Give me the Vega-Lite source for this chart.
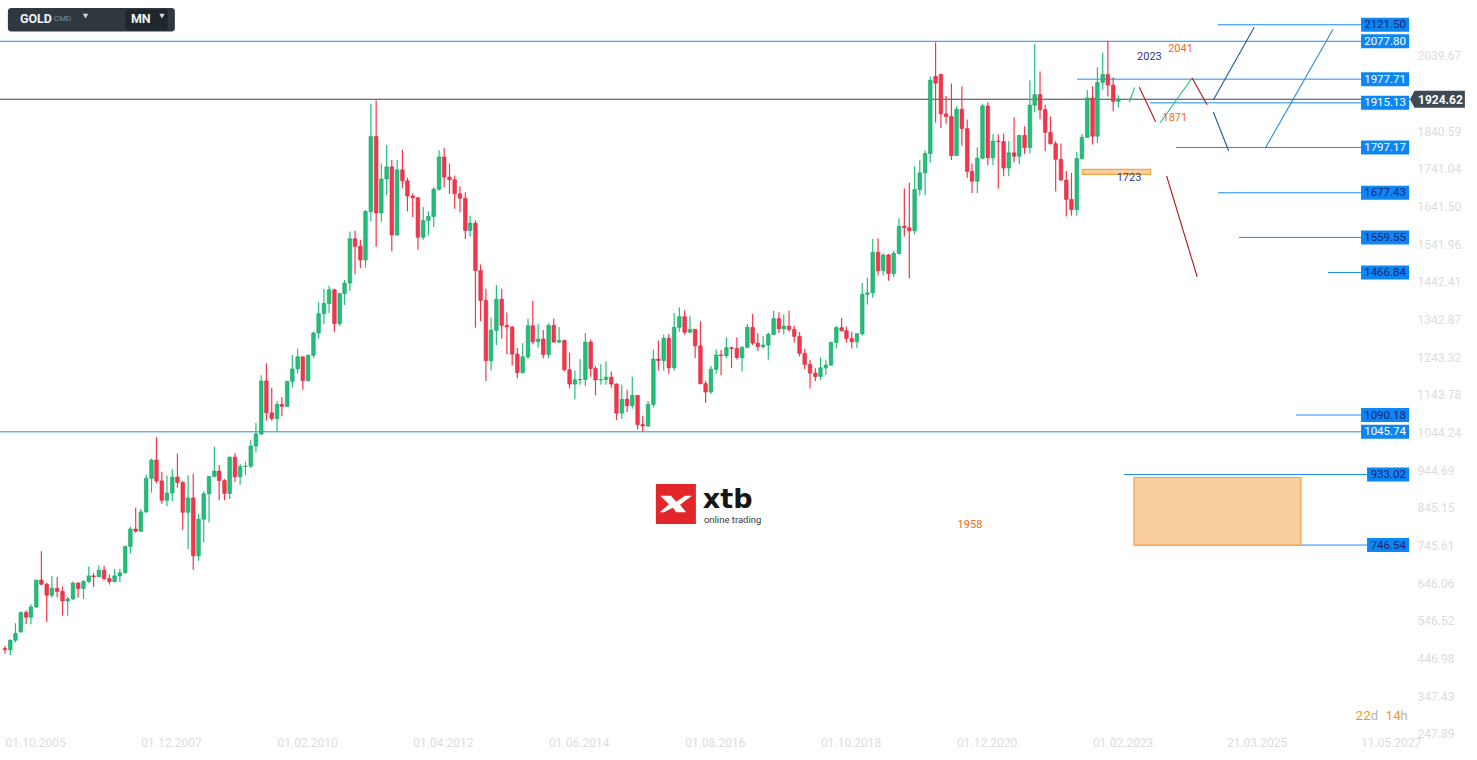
{
  "$schema": "https://vega.github.io/schema/vega-lite/v6.json",
  "width": 1410,
  "height": 760,
  "autosize": {"type": "none"},
  "padding": {"left": 0, "top": 0, "right": 67, "bottom": 0},
  "background": "#ffffff",
  "config": {
    "view": {"stroke": null},
    "font": "Roboto",
    "scale": {"continuousPadding": 0},
    "axis": {"grid": false, "domain": false, "ticks": false, "labelColor": "#dcdcdc", "labelFontSize": 12, "labelFont": "Roboto", "title": null}
  },
  "resolve": {"scale": {"color": "independent", "stroke": "independent"}},
  "datasets": {
    "candles": [
      {"d":"2005-10-01","o":473,"h":480,"l":459,"c":470},
      {"d":"2005-11-01","o":470,"h":497,"l":456,"c":495},
      {"d":"2005-12-01","o":495,"h":540,"l":489,"c":513},
      {"d":"2006-01-01","o":517,"h":571,"l":515,"c":568},
      {"d":"2006-02-01","o":568,"h":574,"l":538,"c":556},
      {"d":"2006-03-01","o":556,"h":590,"l":537,"c":583},
      {"d":"2006-04-01","o":583,"h":655,"l":580,"c":654},
      {"d":"2006-05-01","o":654,"h":730,"l":640,"c":643},
      {"d":"2006-06-01","o":643,"h":647,"l":543,"c":614},
      {"d":"2006-07-01","o":614,"h":665,"l":608,"c":632},
      {"d":"2006-08-01","o":632,"h":663,"l":608,"c":624},
      {"d":"2006-09-01","o":624,"h":637,"l":560,"c":599},
      {"d":"2006-10-01","o":599,"h":610,"l":560,"c":604},
      {"d":"2006-11-01","o":604,"h":650,"l":602,"c":646},
      {"d":"2006-12-01","o":646,"h":648,"l":608,"c":632},
      {"d":"2007-01-01","o":632,"h":654,"l":604,"c":650},
      {"d":"2007-02-01","o":650,"h":690,"l":647,"c":665},
      {"d":"2007-03-01","o":665,"h":673,"l":636,"c":663},
      {"d":"2007-04-01","o":663,"h":693,"l":662,"c":680},
      {"d":"2007-05-01","o":680,"h":691,"l":653,"c":658},
      {"d":"2007-06-01","o":658,"h":669,"l":642,"c":650},
      {"d":"2007-07-01","o":650,"h":683,"l":648,"c":665},
      {"d":"2007-08-01","o":665,"h":683,"l":649,"c":673},
      {"d":"2007-09-01","o":673,"h":745,"l":672,"c":743},
      {"d":"2007-10-01","o":743,"h":795,"l":724,"c":789},
      {"d":"2007-11-01","o":789,"h":845,"l":780,"c":783},
      {"d":"2007-12-01","o":783,"h":842,"l":781,"c":834},
      {"d":"2008-01-01","o":834,"h":933,"l":832,"c":923},
      {"d":"2008-02-01","o":923,"h":975,"l":885,"c":971},
      {"d":"2008-03-01","o":971,"h":1032,"l":910,"c":916},
      {"d":"2008-04-01","o":916,"h":940,"l":856,"c":865},
      {"d":"2008-05-01","o":865,"h":930,"l":850,"c":884},
      {"d":"2008-06-01","o":884,"h":947,"l":862,"c":926},
      {"d":"2008-07-01","o":926,"h":988,"l":898,"c":912},
      {"d":"2008-08-01","o":912,"h":915,"l":786,"c":833},
      {"d":"2008-09-01","o":833,"h":931,"l":736,"c":871},
      {"d":"2008-10-01","o":871,"h":935,"l":681,"c":718},
      {"d":"2008-11-01","o":718,"h":829,"l":705,"c":815},
      {"d":"2008-12-01","o":815,"h":889,"l":753,"c":882},
      {"d":"2009-01-01","o":882,"h":928,"l":806,"c":928},
      {"d":"2009-02-01","o":928,"h":1006,"l":926,"c":942},
      {"d":"2009-03-01","o":942,"h":958,"l":865,"c":917},
      {"d":"2009-04-01","o":917,"h":921,"l":865,"c":883},
      {"d":"2009-05-01","o":883,"h":980,"l":868,"c":979},
      {"d":"2009-06-01","o":979,"h":990,"l":913,"c":927},
      {"d":"2009-07-01","o":927,"h":961,"l":906,"c":954},
      {"d":"2009-08-01","o":954,"h":967,"l":931,"c":955},
      {"d":"2009-09-01","o":955,"h":1025,"l":950,"c":1008},
      {"d":"2009-10-01","o":1008,"h":1070,"l":991,"c":1040},
      {"d":"2009-11-01","o":1040,"h":1195,"l":1038,"c":1180},
      {"d":"2009-12-01","o":1180,"h":1227,"l":1075,"c":1096},
      {"d":"2010-01-01","o":1096,"h":1162,"l":1075,"c":1081},
      {"d":"2010-02-01","o":1081,"h":1127,"l":1045,"c":1118},
      {"d":"2010-03-01","o":1118,"h":1137,"l":1087,"c":1113},
      {"d":"2010-04-01","o":1113,"h":1180,"l":1112,"c":1179},
      {"d":"2010-05-01","o":1179,"h":1249,"l":1163,"c":1212},
      {"d":"2010-06-01","o":1212,"h":1265,"l":1199,"c":1244},
      {"d":"2010-07-01","o":1244,"h":1245,"l":1157,"c":1181},
      {"d":"2010-08-01","o":1181,"h":1250,"l":1178,"c":1248},
      {"d":"2010-09-01","o":1248,"h":1310,"l":1241,"c":1307},
      {"d":"2010-10-01","o":1307,"h":1388,"l":1292,"c":1358},
      {"d":"2010-11-01","o":1358,"h":1424,"l":1330,"c":1385},
      {"d":"2010-12-01","o":1385,"h":1432,"l":1360,"c":1421},
      {"d":"2011-01-01","o":1421,"h":1424,"l":1309,"c":1332},
      {"d":"2011-02-01","o":1332,"h":1412,"l":1325,"c":1411},
      {"d":"2011-03-01","o":1411,"h":1447,"l":1381,"c":1439},
      {"d":"2011-04-01","o":1439,"h":1575,"l":1418,"c":1556},
      {"d":"2011-05-01","o":1556,"h":1577,"l":1462,"c":1536},
      {"d":"2011-06-01","o":1536,"h":1553,"l":1478,"c":1500},
      {"d":"2011-07-01","o":1500,"h":1632,"l":1480,"c":1628},
      {"d":"2011-08-01","o":1628,"h":1913,"l":1602,"c":1826},
      {"d":"2011-09-01","o":1826,"h":1921,"l":1535,"c":1624},
      {"d":"2011-10-01","o":1624,"h":1755,"l":1600,"c":1714},
      {"d":"2011-11-01","o":1714,"h":1804,"l":1671,"c":1746},
      {"d":"2011-12-01","o":1746,"h":1764,"l":1523,"c":1566},
      {"d":"2012-01-01","o":1566,"h":1764,"l":1563,"c":1738},
      {"d":"2012-02-01","o":1738,"h":1791,"l":1689,"c":1709},
      {"d":"2012-03-01","o":1709,"h":1717,"l":1628,"c":1669},
      {"d":"2012-04-01","o":1669,"h":1676,"l":1613,"c":1664},
      {"d":"2012-05-01","o":1664,"h":1667,"l":1527,"c":1560},
      {"d":"2012-06-01","o":1560,"h":1640,"l":1553,"c":1604},
      {"d":"2012-07-01","o":1604,"h":1628,"l":1564,"c":1615},
      {"d":"2012-08-01","o":1615,"h":1692,"l":1587,"c":1687},
      {"d":"2012-09-01","o":1687,"h":1790,"l":1683,"c":1772},
      {"d":"2012-10-01","o":1772,"h":1796,"l":1692,"c":1719},
      {"d":"2012-11-01","o":1719,"h":1755,"l":1674,"c":1712},
      {"d":"2012-12-01","o":1712,"h":1723,"l":1635,"c":1675},
      {"d":"2013-01-01","o":1675,"h":1695,"l":1626,"c":1663},
      {"d":"2013-02-01","o":1663,"h":1679,"l":1555,"c":1578},
      {"d":"2013-03-01","o":1578,"h":1617,"l":1562,"c":1597},
      {"d":"2013-04-01","o":1597,"h":1605,"l":1321,"c":1472},
      {"d":"2013-05-01","o":1472,"h":1488,"l":1338,"c":1393},
      {"d":"2013-06-01","o":1393,"h":1424,"l":1180,"c":1234},
      {"d":"2013-07-01","o":1234,"h":1348,"l":1208,"c":1314},
      {"d":"2013-08-01","o":1314,"h":1434,"l":1275,"c":1396},
      {"d":"2013-09-01","o":1396,"h":1424,"l":1292,"c":1327},
      {"d":"2013-10-01","o":1327,"h":1361,"l":1251,"c":1323},
      {"d":"2013-11-01","o":1323,"h":1325,"l":1221,"c":1251},
      {"d":"2013-12-01","o":1251,"h":1267,"l":1187,"c":1202},
      {"d":"2014-01-01","o":1202,"h":1280,"l":1200,"c":1244},
      {"d":"2014-02-01","o":1244,"h":1345,"l":1238,"c":1326},
      {"d":"2014-03-01","o":1326,"h":1392,"l":1277,"c":1284},
      {"d":"2014-04-01","o":1284,"h":1331,"l":1268,"c":1291},
      {"d":"2014-05-01","o":1291,"h":1315,"l":1240,"c":1250},
      {"d":"2014-06-01","o":1250,"h":1332,"l":1240,"c":1327},
      {"d":"2014-07-01","o":1327,"h":1345,"l":1282,"c":1283},
      {"d":"2014-08-01","o":1283,"h":1323,"l":1280,"c":1287},
      {"d":"2014-09-01","o":1287,"h":1289,"l":1205,"c":1210},
      {"d":"2014-10-01","o":1210,"h":1255,"l":1161,"c":1172},
      {"d":"2014-11-01","o":1172,"h":1208,"l":1131,"c":1183},
      {"d":"2014-12-01","o":1183,"h":1238,"l":1170,"c":1184},
      {"d":"2015-01-01","o":1184,"h":1307,"l":1167,"c":1283},
      {"d":"2015-02-01","o":1283,"h":1290,"l":1191,"c":1213},
      {"d":"2015-03-01","o":1213,"h":1219,"l":1142,"c":1183},
      {"d":"2015-04-01","o":1183,"h":1224,"l":1170,"c":1184},
      {"d":"2015-05-01","o":1184,"h":1232,"l":1170,"c":1190},
      {"d":"2015-06-01","o":1190,"h":1205,"l":1162,"c":1172},
      {"d":"2015-07-01","o":1172,"h":1174,"l":1077,"c":1095},
      {"d":"2015-08-01","o":1095,"h":1170,"l":1080,"c":1132},
      {"d":"2015-09-01","o":1132,"h":1157,"l":1098,"c":1115},
      {"d":"2015-10-01","o":1115,"h":1191,"l":1107,"c":1142},
      {"d":"2015-11-01","o":1142,"h":1143,"l":1052,"c":1065},
      {"d":"2015-12-01","o":1065,"h":1088,"l":1046,"c":1061},
      {"d":"2016-01-01","o":1061,"h":1127,"l":1060,"c":1118},
      {"d":"2016-02-01","o":1118,"h":1263,"l":1111,"c":1238},
      {"d":"2016-03-01","o":1238,"h":1287,"l":1208,"c":1234},
      {"d":"2016-04-01","o":1234,"h":1303,"l":1208,"c":1293},
      {"d":"2016-05-01","o":1293,"h":1304,"l":1199,"c":1215},
      {"d":"2016-06-01","o":1215,"h":1359,"l":1208,"c":1322},
      {"d":"2016-07-01","o":1322,"h":1375,"l":1310,"c":1350},
      {"d":"2016-08-01","o":1350,"h":1367,"l":1302,"c":1309},
      {"d":"2016-09-01","o":1309,"h":1352,"l":1306,"c":1316},
      {"d":"2016-10-01","o":1316,"h":1318,"l":1241,"c":1273},
      {"d":"2016-11-01","o":1273,"h":1338,"l":1171,"c":1173},
      {"d":"2016-12-01","o":1173,"h":1180,"l":1122,"c":1151},
      {"d":"2017-01-01","o":1151,"h":1220,"l":1146,"c":1211},
      {"d":"2017-02-01","o":1211,"h":1264,"l":1199,"c":1249},
      {"d":"2017-03-01","o":1249,"h":1262,"l":1195,"c":1247},
      {"d":"2017-04-01","o":1247,"h":1295,"l":1240,"c":1268},
      {"d":"2017-05-01","o":1268,"h":1271,"l":1214,"c":1266},
      {"d":"2017-06-01","o":1266,"h":1296,"l":1237,"c":1242},
      {"d":"2017-07-01","o":1242,"h":1272,"l":1205,"c":1269},
      {"d":"2017-08-01","o":1269,"h":1331,"l":1267,"c":1322},
      {"d":"2017-09-01","o":1322,"h":1357,"l":1275,"c":1280},
      {"d":"2017-10-01","o":1280,"h":1306,"l":1260,"c":1271},
      {"d":"2017-11-01","o":1271,"h":1299,"l":1265,"c":1275},
      {"d":"2017-12-01","o":1275,"h":1308,"l":1236,"c":1303},
      {"d":"2018-01-01","o":1303,"h":1366,"l":1301,"c":1345},
      {"d":"2018-02-01","o":1345,"h":1362,"l":1307,"c":1318},
      {"d":"2018-03-01","o":1318,"h":1356,"l":1303,"c":1325},
      {"d":"2018-04-01","o":1325,"h":1366,"l":1310,"c":1316},
      {"d":"2018-05-01","o":1316,"h":1326,"l":1282,"c":1298},
      {"d":"2018-06-01","o":1298,"h":1309,"l":1245,"c":1253},
      {"d":"2018-07-01","o":1253,"h":1265,"l":1211,"c":1224},
      {"d":"2018-08-01","o":1224,"h":1236,"l":1160,"c":1201},
      {"d":"2018-09-01","o":1201,"h":1214,"l":1180,"c":1192},
      {"d":"2018-10-01","o":1192,"h":1243,"l":1183,"c":1215},
      {"d":"2018-11-01","o":1215,"h":1237,"l":1196,"c":1222},
      {"d":"2018-12-01","o":1222,"h":1284,"l":1221,"c":1282},
      {"d":"2019-01-01","o":1282,"h":1326,"l":1266,"c":1321},
      {"d":"2019-02-01","o":1321,"h":1347,"l":1311,"c":1313},
      {"d":"2019-03-01","o":1313,"h":1324,"l":1281,"c":1292},
      {"d":"2019-04-01","o":1292,"h":1310,"l":1266,"c":1284},
      {"d":"2019-05-01","o":1284,"h":1306,"l":1267,"c":1305},
      {"d":"2019-06-01","o":1305,"h":1439,"l":1300,"c":1409},
      {"d":"2019-07-01","o":1409,"h":1453,"l":1382,"c":1413},
      {"d":"2019-08-01","o":1413,"h":1555,"l":1400,"c":1520},
      {"d":"2019-09-01","o":1520,"h":1557,"l":1459,"c":1472},
      {"d":"2019-10-01","o":1472,"h":1517,"l":1459,"c":1513},
      {"d":"2019-11-01","o":1513,"h":1516,"l":1445,"c":1464},
      {"d":"2019-12-01","o":1464,"h":1524,"l":1454,"c":1517},
      {"d":"2020-01-01","o":1517,"h":1611,"l":1515,"c":1589},
      {"d":"2020-02-01","o":1589,"h":1689,"l":1562,"c":1585},
      {"d":"2020-03-01","o":1585,"h":1704,"l":1451,"c":1577},
      {"d":"2020-04-01","o":1577,"h":1748,"l":1568,"c":1686},
      {"d":"2020-05-01","o":1686,"h":1765,"l":1670,"c":1730},
      {"d":"2020-06-01","o":1730,"h":1789,"l":1671,"c":1781},
      {"d":"2020-07-01","o":1781,"h":1984,"l":1757,"c":1975},
      {"d":"2020-08-01","o":1985,"h":2075,"l":1863,"c":1967},
      {"d":"2020-09-01","o":1990,"h":1992,"l":1848,"c":1886},
      {"d":"2020-10-01","o":1886,"h":1933,"l":1860,"c":1879},
      {"d":"2020-11-01","o":1879,"h":1966,"l":1764,"c":1776},
      {"d":"2020-12-01","o":1776,"h":1906,"l":1775,"c":1898},
      {"d":"2021-01-01","o":1898,"h":1959,"l":1802,"c":1847},
      {"d":"2021-02-01","o":1847,"h":1871,"l":1717,"c":1734},
      {"d":"2021-03-01","o":1734,"h":1755,"l":1677,"c":1708},
      {"d":"2021-04-01","o":1708,"h":1798,"l":1677,"c":1769},
      {"d":"2021-05-01","o":1769,"h":1913,"l":1766,"c":1907},
      {"d":"2021-06-01","o":1907,"h":1917,"l":1750,"c":1770},
      {"d":"2021-07-01","o":1770,"h":1833,"l":1751,"c":1814},
      {"d":"2021-08-01","o":1814,"h":1832,"l":1688,"c":1813},
      {"d":"2021-09-01","o":1813,"h":1834,"l":1721,"c":1743},
      {"d":"2021-10-01","o":1743,"h":1814,"l":1721,"c":1783},
      {"d":"2021-11-01","o":1783,"h":1877,"l":1758,"c":1774},
      {"d":"2021-12-01","o":1774,"h":1831,"l":1753,"c":1829},
      {"d":"2022-01-01","o":1829,"h":1853,"l":1780,"c":1797},
      {"d":"2022-02-01","o":1797,"h":1974,"l":1781,"c":1909},
      {"d":"2022-03-01","o":1909,"h":2070,"l":1890,"c":1937},
      {"d":"2022-04-01","o":1937,"h":1998,"l":1872,"c":1897},
      {"d":"2022-05-01","o":1897,"h":1910,"l":1787,"c":1837},
      {"d":"2022-06-01","o":1837,"h":1879,"l":1805,"c":1807},
      {"d":"2022-07-01","o":1807,"h":1814,"l":1681,"c":1766},
      {"d":"2022-08-01","o":1766,"h":1808,"l":1710,"c":1711},
      {"d":"2022-09-01","o":1711,"h":1735,"l":1615,"c":1660},
      {"d":"2022-10-01","o":1660,"h":1730,"l":1617,"c":1633},
      {"d":"2022-11-01","o":1633,"h":1786,"l":1617,"c":1768},
      {"d":"2022-12-01","o":1768,"h":1833,"l":1765,"c":1824},
      {"d":"2023-01-01","o":1824,"h":1949,"l":1823,"c":1928},
      {"d":"2023-02-01","o":1928,"h":1959,"l":1805,"c":1827},
      {"d":"2023-03-01","o":1827,"h":2009,"l":1809,"c":1969},
      {"d":"2023-04-01","o":1969,"h":2048,"l":1950,"c":1990},
      {"d":"2023-05-01","o":1990,"h":2079,"l":1932,"c":1962},
      {"d":"2023-06-01","o":1962,"h":1983,"l":1893,"c":1919},
      {"d":"2023-07-01","o":1919,"h":1935,"l":1903,"c":1924.62}
    ],
    "levels": [
      {"p":2121.50,"from":"2025-01-31","to":"2027-05-14","tone":"dark"},
      {"p":2077.80,"from":"2005-09-02","to":"2027-05-14","tone":"light"},
      {"p":1977.71,"from":"2022-11-02","to":"2027-05-14","tone":"light"},
      {"p":1915.13,"from":"2024-01-01","to":"2027-05-14","tone":"light"},
      {"p":1797.17,"from":"2024-06-01","to":"2027-05-14","tone":"light"},
      {"p":1677.43,"from":"2025-01-31","to":"2027-05-14","tone":"dark"},
      {"p":1559.55,"from":"2025-06-02","to":"2027-05-14","tone":"dark"},
      {"p":1466.84,"from":"2026-11-02","to":"2027-05-14","tone":"dark"},
      {"p":1090.18,"from":"2026-04-30","to":"2027-05-14","tone":"dark"},
      {"p":1045.74,"from":"2005-09-02","to":"2027-05-14","tone":"light"},
      {"p":933.02,"from":"2023-08-02","to":"2027-06-18","tone":"dark"},
      {"p":746.54,"from":"2023-09-30","to":"2027-06-18","tone":"dark"}
    ],
    "last": [
      {"d":"2005-09-02","d2":"2028-02-23","p":1924.62}
    ],
    "zones": [
      {"d":"2023-09-30","d2":"2026-05-29","p":925,"p2":746.54},
      {"d":"2022-12-03","d2":"2024-01-05","p":1739.5,"p2":1726.2}
    ],
    "segments": [
      {"d":"2023-09-03","p":1917.3,"d2":"2023-10-04","p2":1955.6,"tone":"green"},
      {"d":"2023-10-31","p":1956.2,"d2":"2024-02-03","p2":1865.3,"tone":"red"},
      {"d":"2024-03-01","p":1862.6,"d2":"2024-09-02","p2":1980.7,"tone":"green"},
      {"d":"2024-09-02","p":1980.7,"d2":"2024-11-29","p2":1910.2,"tone":"red"},
      {"d":"2025-01-04","p":1922.6,"d2":"2025-08-30","p2":2114.7,"tone":"navy"},
      {"d":"2025-01-04","p":1890.9,"d2":"2025-04-03","p2":1788.6,"tone":"navy"},
      {"d":"2025-11-02","p":1794.9,"d2":"2026-12-02","p2":2109.4,"tone":"blue"},
      {"d":"2024-04-07","p":1721.8,"d2":"2024-10-02","p2":1455.6,"tone":"red"}
    ],
    "notes": [
      {"d":"2023-12-29","p":2035.4,"t":"2023","tone":"navy"},
      {"d":"2024-06-27","p":2056.6,"t":"2041","tone":"orange"},
      {"d":"2024-05-25","p":1874.2,"t":"1871","tone":"orange"},
      {"d":"2023-09-01","p":1715.7,"t":"1723","tone":"navy"},
      {"d":"2021-02-17","p":799.4,"t":"1958","tone":"orange"}
    ],
    "countdown": [
      {"d":"2027-04-12","p":295,"t":"22","tone":"num"},
      {"d":"2027-07-08","p":295,"t":"d","tone":"unit"},
      {"d":"2027-10-04","p":295,"t":"14","tone":"num"},
      {"d":"2027-12-28","p":295,"t":"h","tone":"unit"}
    ]
  },
  "layer": [
    {
      "data": {"name": "levels"},
      "mark": {"type": "rule", "color": "#1e8cf0", "strokeWidth": 1},
      "encoding": {
        "x": {"field": "from", "type": "temporal", "title": null, "scale": {"type": "utc", "nice": false, "domain": [{"year": 2005, "month": 9, "date": 2, "utc": true}, {"year": 2028, "month": 2, "date": 23, "utc": true}]}},
        "x2": {"field": "to"},
        "y": {"field": "p", "type": "quantitative", "title": null, "scale": {"domain": [178.5, 2186.9], "nice": false, "zero": false}}
      }
    },
    {
      "data": {"name": "last"},
      "mark": {"type": "rule", "color": "#3b464f", "strokeWidth": 1},
      "encoding": {
        "x": {"field": "d", "type": "temporal", "title": null, "scale": {"type": "utc", "nice": false, "domain": [{"year": 2005, "month": 9, "date": 2, "utc": true}, {"year": 2028, "month": 2, "date": 23, "utc": true}]}},
        "x2": {"field": "d2"},
        "y": {"field": "p", "type": "quantitative", "title": null, "scale": {"domain": [178.5, 2186.9], "nice": false, "zero": false}}
      }
    },
    {
      "data": {"name": "zones"},
      "mark": {"type": "rect", "fill": "#f9cf9f", "stroke": "#f3a447", "strokeWidth": 1.2},
      "encoding": {
        "x": {"field": "d", "type": "temporal", "title": null, "scale": {"type": "utc", "nice": false, "domain": [{"year": 2005, "month": 9, "date": 2, "utc": true}, {"year": 2028, "month": 2, "date": 23, "utc": true}]}},
        "x2": {"field": "d2"},
        "y": {"field": "p", "type": "quantitative", "title": null, "scale": {"domain": [178.5, 2186.9], "nice": false, "zero": false}},
        "y2": {"field": "p2"}
      }
    },
    {
      "data": {"name": "candles"},
      "mark": {"type": "rule", "strokeWidth": 1.2},
      "encoding": {
        "x": {"field": "d", "type": "temporal", "title": null, "scale": {"type": "utc", "nice": false, "domain": [{"year": 2005, "month": 9, "date": 2, "utc": true}, {"year": 2028, "month": 2, "date": 23, "utc": true}]}},
        "y": {"field": "l", "type": "quantitative", "title": null, "scale": {"domain": [178.5, 2186.9], "nice": false, "zero": false}},
        "y2": {"field": "h"},
        "color": {"condition": {"test": "datum.c >= datum.o", "value": "#21c07a"}, "value": "#f4364c"}
      }
    },
    {
      "data": {"name": "candles"},
      "mark": {"type": "bar", "size": 3.6, "strokeWidth": 0.6},
      "encoding": {
        "x": {
          "field": "d", "type": "temporal", "title": null,
          "scale": {"type": "utc", "nice": false, "domain": [{"year": 2005, "month": 9, "date": 2, "utc": true}, {"year": 2028, "month": 2, "date": 23, "utc": true}]},
          "axis": {
            "values": [
              {"year": 2005, "month": 10, "date": 1, "utc": true},
              {"year": 2007, "month": 12, "date": 1, "utc": true},
              {"year": 2010, "month": 2, "date": 1, "utc": true},
              {"year": 2012, "month": 4, "date": 1, "utc": true},
              {"year": 2014, "month": 6, "date": 1, "utc": true},
              {"year": 2016, "month": 8, "date": 1, "utc": true},
              {"year": 2018, "month": 10, "date": 1, "utc": true},
              {"year": 2020, "month": 12, "date": 1, "utc": true},
              {"year": 2023, "month": 2, "date": 1, "utc": true},
              {"year": 2025, "month": 3, "date": 21, "utc": true},
              {"year": 2027, "month": 5, "date": 11, "utc": true}
            ],
            "labelExpr": "utcFormat(datum.value, '%d.%m.%Y')",
            "orient": "bottom", "offset": -28, "domain": false, "ticks": false, "grid": false,
            "labelAlign": "left", "labelBaseline": "top", "labelPadding": 5,
            "labelColor": "#dcdcdc", "labelFontSize": 12, "labelFont": "Roboto",
            "labelFlush": false, "labelOverlap": false, "labelBound": false, "title": null
          }
        },
        "y": {
          "field": "o", "type": "quantitative", "title": null,
          "scale": {"domain": [178.5, 2186.9], "nice": false, "zero": false},
          "axis": {
            "values": [2039.67, 1840.59, 1741.04, 1641.50, 1541.96, 1442.41, 1342.87, 1243.32, 1143.78, 1044.24, 944.69, 845.15, 745.61, 646.06, 546.52, 446.98, 347.43, 247.89],
            "format": ".2f", "orient": "right", "domain": false, "ticks": false, "grid": false,
            "labelAlign": "left", "labelPadding": 7, "labelColor": "#dcdcdc", "labelFontSize": 12, "labelFont": "Roboto",
            "labelOverlap": false, "labelBound": false, "labelFlush": false, "title": null
          }
        },
        "y2": {"field": "c"},
        "color": {"condition": {"test": "datum.c >= datum.o", "value": "#21c07a"}, "value": "#f4364c"},
        "stroke": {"condition": {"test": "datum.c >= datum.o", "value": "#1a9f65"}, "value": "#d9283e"}
      }
    },
    {
      "data": {"name": "segments"},
      "mark": {"type": "rule", "strokeWidth": 1.1},
      "encoding": {
        "x": {"field": "d", "type": "temporal", "title": null, "scale": {"type": "utc", "nice": false, "domain": [{"year": 2005, "month": 9, "date": 2, "utc": true}, {"year": 2028, "month": 2, "date": 23, "utc": true}]}},
        "x2": {"field": "d2"},
        "y": {"field": "p", "type": "quantitative", "title": null, "scale": {"domain": [178.5, 2186.9], "nice": false, "zero": false}},
        "y2": {"field": "p2"},
        "color": {"field": "tone", "type": "nominal", "legend": null, "scale": {"domain": ["green", "red", "navy", "blue"], "range": ["#22bf78", "#b3161e", "#1d5c9c", "#2b8dd8"]}}
      }
    },
    {
      "data": {"name": "notes"},
      "mark": {"type": "text", "fontSize": 11, "font": "Roboto", "align": "center", "baseline": "middle"},
      "encoding": {
        "x": {"field": "d", "type": "temporal", "title": null, "scale": {"type": "utc", "nice": false, "domain": [{"year": 2005, "month": 9, "date": 2, "utc": true}, {"year": 2028, "month": 2, "date": 23, "utc": true}]}},
        "y": {"field": "p", "type": "quantitative", "title": null, "scale": {"domain": [178.5, 2186.9], "nice": false, "zero": false}},
        "text": {"field": "t"},
        "color": {"field": "tone", "type": "nominal", "legend": null, "scale": {"domain": ["navy", "orange"], "range": ["#2f3a8c", "#f26a1d"]}}
      }
    },
    {
      "data": {"name": "levels"},
      "mark": {"type": "bar", "size": 14, "color": "#0b86f2"},
      "encoding": {
        "x": {"field": "to", "type": "temporal", "title": null, "scale": {"type": "utc", "nice": false, "domain": [{"year": 2005, "month": 9, "date": 2, "utc": true}, {"year": 2028, "month": 2, "date": 23, "utc": true}]}},
        "x2": {"datum": {"year": 2028, "month": 2, "date": 18, "utc": true}},
        "y": {"field": "p", "type": "quantitative", "title": null, "scale": {"domain": [178.5, 2186.9], "nice": false, "zero": false}}
      }
    },
    {
      "data": {"name": "levels"},
      "mark": {"type": "text", "fontSize": 11.5, "font": "Roboto", "align": "right", "baseline": "middle", "dx": -4, "dy": 0.5},
      "encoding": {
        "x": {"datum": {"year": 2028, "month": 2, "date": 23, "utc": true}, "type": "temporal", "title": null, "scale": {"type": "utc", "nice": false, "domain": [{"year": 2005, "month": 9, "date": 2, "utc": true}, {"year": 2028, "month": 2, "date": 23, "utc": true}]}},
        "y": {"field": "p", "type": "quantitative", "title": null, "scale": {"domain": [178.5, 2186.9], "nice": false, "zero": false}},
        "text": {"field": "p", "type": "quantitative", "format": ".2f"},
        "color": {"field": "tone", "type": "nominal", "legend": null, "scale": {"domain": ["light", "dark"], "range": ["#ffffff", "#1c2272"]}}
      }
    },
    {
      "data": {"name": "last"},
      "mark": {"type": "point", "filled": true, "opacity": 1, "size": 3136, "color": "#3d4a53", "shape": "M0,0 L0.16,-0.3 L1.96,-0.3 L1.96,0.3 L0.16,0.3 Z"},
      "encoding": {
        "x": {"field": "d2", "type": "temporal", "title": null, "scale": {"type": "utc", "nice": false, "domain": [{"year": 2005, "month": 9, "date": 2, "utc": true}, {"year": 2028, "month": 2, "date": 23, "utc": true}]}},
        "y": {"field": "p", "type": "quantitative", "title": null, "scale": {"domain": [178.5, 2186.9], "nice": false, "zero": false}}
      }
    },
    {
      "data": {"name": "last"},
      "mark": {"type": "text", "fontSize": 12, "fontWeight": "bold", "font": "Roboto", "color": "#ffffff", "align": "left", "baseline": "middle", "dx": 8, "dy": 0.5},
      "encoding": {
        "x": {"field": "d2", "type": "temporal", "title": null, "scale": {"type": "utc", "nice": false, "domain": [{"year": 2005, "month": 9, "date": 2, "utc": true}, {"year": 2028, "month": 2, "date": 23, "utc": true}]}},
        "y": {"field": "p", "type": "quantitative", "title": null, "scale": {"domain": [178.5, 2186.9], "nice": false, "zero": false}},
        "text": {"field": "p", "type": "quantitative", "format": ".2f"}
      }
    },
    {
      "data": {"values": [
        {"d": "2005-10-18", "d2": "2008-06-16", "p": 2165.7, "p2": 2103.6, "k": "outer"},
        {"d": "2007-09-04", "d2": "2008-05-07", "p": 2162.5, "p2": 2106.5, "k": "inner"}
      ]},
      "mark": {"type": "rect", "cornerRadius": 3},
      "encoding": {
        "x": {"field": "d", "type": "temporal", "title": null, "scale": {"type": "utc", "nice": false, "domain": [{"year": 2005, "month": 9, "date": 2, "utc": true}, {"year": 2028, "month": 2, "date": 23, "utc": true}]}},
        "x2": {"field": "d2"},
        "y": {"field": "p", "type": "quantitative", "title": null, "scale": {"domain": [178.5, 2186.9], "nice": false, "zero": false}},
        "y2": {"field": "p2"},
        "color": {"field": "k", "type": "nominal", "legend": null, "scale": {"domain": ["outer", "inner"], "range": ["#2e383e", "#1f272c"]}}
      }
    },
    {
      "data": {"values": [
        {"d": "2005-12-27", "p": 2137.5, "t": "GOLD"},
        {"d": "2007-10-04", "p": 2137.5, "t": "MN"}
      ]},
      "mark": {"type": "text", "fontSize": 12.5, "fontWeight": "bold", "font": "Roboto", "color": "#f2f4f5", "align": "left", "baseline": "middle"},
      "encoding": {
        "x": {"field": "d", "type": "temporal", "title": null, "scale": {"type": "utc", "nice": false, "domain": [{"year": 2005, "month": 9, "date": 2, "utc": true}, {"year": 2028, "month": 2, "date": 23, "utc": true}]}},
        "y": {"field": "p", "type": "quantitative", "title": null, "scale": {"domain": [178.5, 2186.9], "nice": false, "zero": false}},
        "text": {"field": "t"}
      }
    },
    {
      "data": {"values": [
        {"d": "2006-07-13", "p": 2136.5, "t": "CMD"}
      ]},
      "mark": {"type": "text", "fontSize": 8, "font": "Roboto", "color": "#7f8d95", "align": "left", "baseline": "middle"},
      "encoding": {
        "x": {"field": "d", "type": "temporal", "title": null, "scale": {"type": "utc", "nice": false, "domain": [{"year": 2005, "month": 9, "date": 2, "utc": true}, {"year": 2028, "month": 2, "date": 23, "utc": true}]}},
        "y": {"field": "p", "type": "quantitative", "title": null, "scale": {"domain": [178.5, 2186.9], "nice": false, "zero": false}},
        "text": {"field": "t"}
      }
    },
    {
      "data": {"values": [
        {"d": "2007-01-13", "p": 2144.5},
        {"d": "2008-04-02", "p": 2144.5}
      ]},
      "mark": {"type": "point", "shape": "triangle-down", "filled": true, "opacity": 1, "size": 30, "color": "#d3d9dc"},
      "encoding": {
        "x": {"field": "d", "type": "temporal", "title": null, "scale": {"type": "utc", "nice": false, "domain": [{"year": 2005, "month": 9, "date": 2, "utc": true}, {"year": 2028, "month": 2, "date": 23, "utc": true}]}},
        "y": {"field": "p", "type": "quantitative", "title": null, "scale": {"domain": [178.5, 2186.9], "nice": false, "zero": false}}
      }
    },
    {
      "data": {"values": [{"d": "2016-06-11", "p": 855}]},
      "mark": {"type": "point", "shape": "square", "filled": true, "opacity": 1, "size": 1600, "color": "#e3262a"},
      "encoding": {
        "x": {"field": "d", "type": "temporal", "title": null, "scale": {"type": "utc", "nice": false, "domain": [{"year": 2005, "month": 9, "date": 2, "utc": true}, {"year": 2028, "month": 2, "date": 23, "utc": true}]}},
        "y": {"field": "p", "type": "quantitative", "title": null, "scale": {"domain": [178.5, 2186.9], "nice": false, "zero": false}}
      }
    },
    {
      "data": {"values": [{"d": "2016-06-11", "p": 855}]},
      "mark": {"type": "point", "filled": true, "opacity": 1, "size": 1089, "color": "#ffffff", "shape": "M-0.95,-0.5 L-0.3,-0.5 L0.02,-0.14 L0.55,-0.5 L0.98,-0.5 L0.25,0.04 L0.62,0.5 L0.02,0.5 L-0.18,0.22 L-0.72,0.5 L-0.98,0.5 L-0.42,0.02 Z"},
      "encoding": {
        "x": {"field": "d", "type": "temporal", "title": null, "scale": {"type": "utc", "nice": false, "domain": [{"year": 2005, "month": 9, "date": 2, "utc": true}, {"year": 2028, "month": 2, "date": 23, "utc": true}]}},
        "y": {"field": "p", "type": "quantitative", "title": null, "scale": {"domain": [178.5, 2186.9], "nice": false, "zero": false}}
      }
    },
    {
      "data": {"values": [{"d": "2016-11-15", "p": 844.4, "t": "xtb"}]},
      "mark": {"type": "text", "fontSize": 27, "fontWeight": "bold", "font": "DejaVu Sans", "color": "#161616", "align": "left", "baseline": "alphabetic"},
      "encoding": {
        "x": {"field": "d", "type": "temporal", "title": null, "scale": {"type": "utc", "nice": false, "domain": [{"year": 2005, "month": 9, "date": 2, "utc": true}, {"year": 2028, "month": 2, "date": 23, "utc": true}]}},
        "y": {"field": "p", "type": "quantitative", "title": null, "scale": {"domain": [178.5, 2186.9], "nice": false, "zero": false}},
        "text": {"field": "t"}
      }
    },
    {
      "data": {"values": [{"d": "2016-11-21", "p": 814, "t": "online trading"}]},
      "mark": {"type": "text", "fontSize": 9.5, "font": "Roboto", "color": "#3a3a3a", "align": "left", "baseline": "middle"},
      "encoding": {
        "x": {"field": "d", "type": "temporal", "title": null, "scale": {"type": "utc", "nice": false, "domain": [{"year": 2005, "month": 9, "date": 2, "utc": true}, {"year": 2028, "month": 2, "date": 23, "utc": true}]}},
        "y": {"field": "p", "type": "quantitative", "title": null, "scale": {"domain": [178.5, 2186.9], "nice": false, "zero": false}},
        "text": {"field": "t"}
      }
    },
    {
      "data": {"name": "countdown"},
      "mark": {"type": "text", "fontSize": 13.5, "font": "Roboto", "align": "left", "baseline": "middle"},
      "encoding": {
        "x": {"field": "d", "type": "temporal", "title": null, "scale": {"type": "utc", "nice": false, "domain": [{"year": 2005, "month": 9, "date": 2, "utc": true}, {"year": 2028, "month": 2, "date": 23, "utc": true}]}},
        "y": {"field": "p", "type": "quantitative", "title": null, "scale": {"domain": [178.5, 2186.9], "nice": false, "zero": false}},
        "text": {"field": "t"},
        "color": {"field": "tone", "type": "nominal", "legend": null, "scale": {"domain": ["num", "unit"], "range": ["#f7941d", "#b3b8bc"]}}
      }
    }
  ]
}
